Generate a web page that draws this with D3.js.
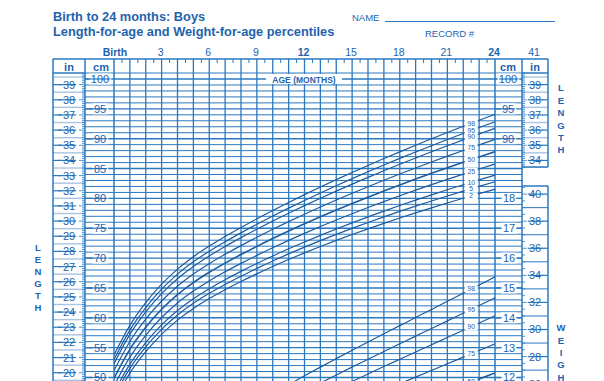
<!DOCTYPE html>
<html>
<head>
<meta charset="utf-8">
<script src="https://cdn.jsdelivr.net/npm/d3@7"></script>
<style>
  html, body { margin: 0; padding: 0; background: #ffffff; }
  svg { display: block; font-family: "Liberation Sans", Arial, sans-serif; }
</style>
</head>
<body>
<div id="chart"></div>
<script>
// months of age (x categories)
const months = [0, 1, 2, 3, 4, 5, 6, 7, 8, 9, 10, 11, 12, 13, 14, 15, 16, 17, 18, 19, 20, 21, 22, 23, 24];
const monthTickValues = [0, 3, 6, 9, 12, 15, 18, 21, 24];
const monthTickLabels = ["Birth", "3", "6", "9", "12", "15", "18", "21", "24"];

// length-for-age percentiles (cm), birth..24 months
const len2  = [45.996, 50.726, 54.316, 57.230, 59.612, 61.566, 63.227, 64.705, 66.069, 67.361, 68.588, 69.754, 70.868, 71.936, 72.961, 73.949, 74.903, 75.825, 76.718, 77.582, 78.420, 79.231, 80.021, 80.789, 81.541];
const len5  = [46.770, 51.522, 55.134, 58.066, 60.463, 62.429, 64.103, 65.593, 66.971, 68.278, 69.523, 70.707, 71.840, 72.928, 73.975, 74.984, 75.960, 76.905, 77.822, 78.709, 79.571, 80.407, 81.221, 82.014, 82.791];
const len10 = [47.458, 52.230, 55.861, 58.809, 61.219, 63.197, 64.881, 66.382, 67.773, 69.094, 70.353, 71.554, 72.704, 73.809, 74.875, 75.903, 76.899, 77.865, 78.802, 79.711, 80.593, 81.451, 82.287, 83.103, 83.901];
const len25 = [48.607, 53.411, 57.076, 60.050, 62.483, 64.478, 66.180, 67.700, 69.112, 70.456, 71.740, 72.968, 74.146, 75.282, 76.379, 77.439, 78.468, 79.468, 80.439, 81.383, 82.302, 83.196, 84.069, 84.921, 85.755];
const len50 = [49.884, 54.724, 58.425, 61.429, 63.886, 65.903, 67.624, 69.165, 70.599, 71.969, 73.281, 74.539, 75.749, 76.919, 78.050, 79.146, 80.211, 81.249, 82.259, 83.242, 84.200, 85.135, 86.048, 86.941, 87.816];
const len75 = [51.161, 56.037, 59.774, 62.808, 65.290, 67.327, 69.067, 70.629, 72.087, 73.482, 74.822, 76.110, 77.352, 78.555, 79.721, 80.853, 81.955, 83.030, 84.078, 85.100, 86.098, 87.073, 88.027, 88.961, 89.877];
const len90 = [52.310, 57.219, 60.989, 64.049, 66.553, 68.609, 70.367, 71.947, 73.426, 74.844, 76.210, 77.524, 78.794, 80.028, 81.225, 82.389, 83.524, 84.633, 85.716, 86.773, 87.806, 88.818, 89.808, 90.780, 91.732];
const len95 = [52.998, 57.927, 61.716, 64.792, 67.309, 69.376, 71.144, 72.736, 74.227, 75.659, 77.040, 78.371, 79.658, 80.909, 82.125, 83.308, 84.463, 85.593, 86.696, 87.774, 88.829, 89.863, 90.875, 91.868, 92.842];
const len98 = [53.773, 58.723, 62.534, 65.628, 68.160, 70.240, 72.020, 73.624, 75.130, 76.576, 77.974, 79.323, 80.630, 81.902, 83.138, 84.343, 85.520, 86.672, 87.799, 88.901, 89.980, 91.038, 92.075, 93.093, 94.091];

// weight-for-age percentiles (kg), 10..24 months (only the visible part)
const wtMonths = [10, 11, 12, 13, 14, 15, 16, 17, 18, 19, 20, 21, 22, 23, 24];
const wt50 = [9.165, 9.412, 9.648, 9.875, 10.095, 10.311, 10.523, 10.732, 10.939, 11.143, 11.346, 11.549, 11.750, 11.951, 12.152];
const wt75 = [9.861, 10.129, 10.384, 10.630, 10.870, 11.104, 11.335, 11.564, 11.790, 12.014, 12.237, 12.460, 12.682, 12.904, 13.126];
const wt90 = [10.529, 10.817, 11.091, 11.356, 11.615, 11.868, 12.118, 12.366, 12.611, 12.855, 13.098, 13.341, 13.584, 13.827, 14.070];
const wt95 = [10.949, 11.248, 11.535, 11.813, 12.084, 12.349, 12.611, 12.872, 13.129, 13.386, 13.642, 13.898, 14.155, 14.412, 14.668];
const wt98 = [11.439, 11.754, 12.056, 12.348, 12.632, 12.913, 13.190, 13.465, 13.737, 14.010, 14.281, 14.553, 14.826, 15.099, 15.372];

// scale tick labels
const cmLabelsLeft = [100, 95, 90, 85, 80, 75, 70, 65, 60, 55, 50];
const cmLabelsRight = [100, 95, 90];
const kgLabelsRight = [18, 17, 16, 15, 14, 13, 12];
const inLabelsLeft = [39, 38, 37, 36, 35, 34, 33, 32, 31, 30, 29, 28, 27, 26, 25, 24, 23, 22, 21, 20];
const inLabelsRight = [39, 38, 37, 36, 35, 34];
const lbLabelsRight = [40, 38, 36, 34, 32, 30, 28, 26];

const W = 604, H = 381;
const blue = "#2a78c0";
const ink = "#1f63ad";
const curveInk = "#1c5b9f";

const svg = d3.select("#chart").append("svg")
  .attr("width", W).attr("height", H)
  .attr("viewBox", `0 0 ${W} ${H}`);

const x = d3.scaleLinear().domain([0, 24]).range([114, 495]);
const yLen = d3.scaleLinear().domain([50, 100]).range([377.5, 79]);
const yWt = d3.scaleLinear().domain([12, 18]).range([yLen(50), yLen(80)]);
const yIn = v => yLen(v * 2.54);
const yLb = v => yWt(v * 0.45359);

const frameTop = 59, headLine = 73;
const xInL = 53, xCmL = 85, xCmR = 522, xInR = 548;

// ---- titles ----
svg.append("text").attr("x", 53).attr("y", 21)
  .style("font-size", "12.8px").style("font-weight", "bold").style("fill", ink)
  .text("Birth to 24 months: Boys");
svg.append("text").attr("x", 53).attr("y", 36)
  .style("font-size", "12.8px").style("font-weight", "bold").style("fill", ink)
  .text("Length-for-age and Weight-for-age percentiles");
svg.append("text").attr("x", 352).attr("y", 21)
  .style("font-size", "9.5px").style("fill", ink).text("NAME");
svg.append("line").attr("x1", 385).attr("x2", 555).attr("y1", 21.5).attr("y2", 21.5)
  .attr("stroke", blue).attr("stroke-width", 1);
svg.append("text").attr("x", 425).attr("y", 37)
  .style("font-size", "9.5px").style("fill", ink).text("RECORD #");

// ---- month labels ----
svg.append("g").selectAll("text")
  .data(monthTickValues)
  .join("text")
  .attr("x", (d, i) => x(d) + (i === 0 ? 1 : -1))
  .attr("y", 56)
  .attr("text-anchor", "middle")
  .style("font-size", "10.5px")
  .style("font-weight", d => (d % 12 === 0 ? "bold" : "normal"))
  .style("fill", ink)
  .text((d, i) => monthTickLabels[i]);
svg.append("text").attr("x", 534).attr("y", 56).attr("text-anchor", "middle")
  .style("font-size", "10.5px").style("fill", ink).text("41");

// ---- inch columns: light half-inch lines ----
const gIn = svg.append("g");
const halfInL = d3.range(19.5, 40, 1);
gIn.selectAll("line.hl").data(halfInL).join("line")
  .attr("x1", xInL).attr("x2", xCmL)
  .attr("y1", d => yIn(d)).attr("y2", d => yIn(d))
  .attr("stroke", "#a8c4e2").attr("stroke-width", 1.4);
const halfInR = d3.range(33.5, 40, 1);
gIn.selectAll("line.hr").data(halfInR).join("line")
  .attr("x1", xCmR).attr("x2", xInR)
  .attr("y1", d => yIn(d)).attr("y2", d => yIn(d))
  .attr("stroke", "#a8c4e2").attr("stroke-width", 1.4);
// odd-pound lines in the lb box
const oddLb = [41, 39, 37, 35, 33, 31, 29, 27, 25];
gIn.selectAll("line.lb").data(oddLb).join("line")
  .attr("x1", xCmR).attr("x2", xInR)
  .attr("y1", d => yLb(d)).attr("y2", d => yLb(d))
  .attr("stroke", blue).attr("stroke-width", 1);

// eighth-inch ticks at the inner edges of the inch columns
const eighthL = d3.range(19.5 * 8, 39.75 * 8 + 1).map(v => v / 8);
gIn.selectAll("line.e").data(eighthL).join("line")
  .attr("x1", d => (Number.isInteger(d) ? xCmL - 6 : xCmL - 3)).attr("x2", xCmL)
  .attr("y1", d => yIn(d)).attr("y2", d => yIn(d))
  .attr("stroke", blue).attr("stroke-width", 0.8);
const eighthR = d3.range(33.5 * 8, 39.75 * 8 + 1).map(v => v / 8);
gIn.selectAll("line.er").data(eighthR).join("line")
  .attr("x1", xCmR).attr("x2", d => (Number.isInteger(d) ? xCmR + 6 : xCmR + 3))
  .attr("y1", d => yIn(d)).attr("y2", d => yIn(d))
  .attr("stroke", blue).attr("stroke-width", 0.8);
const quarterLb = d3.range(24.5 * 2, 41.5 * 2 + 1).map(v => v / 2);
gIn.selectAll("line.ql").data(quarterLb).join("line")
  .attr("x1", xCmR).attr("x2", d => (d % 2 === 0 ? xCmR + 6 : xCmR + 3))
  .attr("y1", d => yLb(d)).attr("y2", d => yLb(d))
  .attr("stroke", blue).attr("stroke-width", 0.8)
  .attr("display", d => (yLb(d) < 187 ? "none" : null));

// ---- main grid ----
const grid = svg.append("g");
const cmLines = d3.range(50, 102, 1);
grid.selectAll("line.h").data(cmLines).join("line")
  .attr("x1", xCmL).attr("x2", xCmR)
  .attr("y1", d => yLen(d)).attr("y2", d => yLen(d))
  .attr("stroke", blue)
  .attr("stroke-width", d => (d % 5 === 0 ? 1.4 : 1));

grid.selectAll("line.v").data(months).join("line")
  .attr("x1", d => x(d)).attr("x2", d => x(d))
  .attr("y1", frameTop).attr("y2", H)
  .attr("stroke", blue)
  .attr("stroke-width", d => (d === 0 || d === 24 ? 1.5 : 1.3));

const halfMonths = months.slice(0, 24).map(d => d + 0.5);
grid.selectAll("line.t").data(halfMonths).join("line")
  .attr("x1", d => x(d)).attr("x2", d => x(d))
  .attr("y1", frameTop).attr("y2", frameTop + 4)
  .attr("stroke", blue).attr("stroke-width", 1);

// ---- frame ----
const frame = svg.append("g").attr("stroke", blue).attr("stroke-width", 1.5);
frame.append("line").attr("x1", xInL).attr("x2", xInR).attr("y1", frameTop).attr("y2", frameTop);
frame.append("line").attr("x1", xInL).attr("x2", xCmL).attr("y1", headLine).attr("y2", headLine);
frame.append("line").attr("x1", xCmR).attr("x2", xInR).attr("y1", headLine).attr("y2", headLine);
frame.append("line").attr("x1", xInL).attr("x2", xInL).attr("y1", frameTop).attr("y2", H);
frame.append("line").attr("x1", xCmL).attr("x2", xCmL).attr("y1", frameTop).attr("y2", H);
frame.append("line").attr("x1", xCmR).attr("x2", xCmR).attr("y1", frameTop).attr("y2", H);
frame.append("line").attr("x1", xInR).attr("x2", xInR).attr("y1", frameTop).attr("y2", 167);
frame.append("line").attr("x1", xInR).attr("x2", xInR).attr("y1", 186).attr("y2", H);
frame.append("line").attr("x1", xCmR).attr("x2", xInR).attr("y1", 167).attr("y2", 167);
frame.append("line").attr("x1", xCmR).attr("x2", xInR).attr("y1", 186).attr("y2", 186);
// white gap between length and weight inch boxes
svg.append("rect").attr("x", xCmR + 1).attr("y", 168).attr("width", xInR - xCmR + 2).attr("height", 17).attr("fill", "#fff");

// ---- curves ----
svg.append("clipPath").attr("id", "plotClip")
  .append("rect").attr("x", 114).attr("y", headLine).attr("width", 381).attr("height", H - headLine);

const lenSeries = [
  { p: "98", v: len98 }, { p: "95", v: len95 }, { p: "90", v: len90 },
  { p: "75", v: len75 }, { p: "50", v: len50 }, { p: "25", v: len25 },
  { p: "10", v: len10 }, { p: "5", v: len5 }, { p: "2", v: len2 }
];
const wtSeries = [
  { p: "98", v: wt98 }, { p: "95", v: wt95 }, { p: "90", v: wt90 },
  { p: "75", v: wt75 }, { p: "50", v: wt50 }
];

const lenLine = d3.line().x((d, i) => x(months[i])).y(d => yLen(d)).curve(d3.curveMonotoneX);
const wtLine = d3.line().x((d, i) => x(wtMonths[i])).y(d => yWt(d)).curve(d3.curveMonotoneX);

const curves = svg.append("g").attr("clip-path", "url(#plotClip)");
curves.selectAll("path.len").data(lenSeries).join("path")
  .attr("fill", "none").attr("stroke", curveInk)
  .attr("stroke-width", d => (d.p === "50" ? 1.6 : 1.2))
  .attr("d", d => lenLine(d.v));
curves.selectAll("path.wt").data(wtSeries).join("path")
  .attr("fill", "none").attr("stroke", curveInk)
  .attr("stroke-width", d => (d.p === "50" ? 1.6 : 1.2))
  .attr("d", d => wtLine(d.v));

// percentile labels at 22.5 months
const labX = x(22.5);
function addLabels(series, yFn, valueAt) {
  const g = svg.append("g").attr("clip-path", "url(#plotClip)");
  series.forEach(s => {
    const yy = yFn(valueAt(s.v));
    g.append("rect").attr("x", labX - 6.5).attr("y", yy - 3.6).attr("width", 13).attr("height", 7.2).attr("fill", "#fff");
  });
  series.forEach(s => {
    const yy = yFn(valueAt(s.v));
    g.append("text").attr("x", labX).attr("y", yy).attr("dy", "0.35em")
      .attr("text-anchor", "middle")
      .style("font-size", "6.8px").style("fill", ink)
      .text(s.p);
  });
}
addLabels(lenSeries, yLen, v => (v[22] + v[23]) / 2);
addLabels(wtSeries, yWt, v => (v[12] + v[13]) / 2);

// ---- AGE (MONTHS) ----
svg.append("rect").attr("x", 266).attr("y", 74).attr("width", 76).attr("height", 10).attr("fill", "#fff");
svg.append("text").attr("x", 304).attr("y", 82.5).attr("text-anchor", "middle")
  .style("font-size", "8.5px").style("font-weight", "bold").style("fill", ink)
  .text("AGE (MONTHS)");

// ---- scale labels ----
function scaleLabels(vals, yFn, cx, size, x0, x1) {
  const g = svg.append("g");
  vals.forEach(v => {
    const yy = yFn(v);
    const txt = String(v);
    const w = txt.length * size * 0.56 + 4;
    g.append("rect").attr("x", cx - w / 2).attr("y", yy - size * 0.5).attr("width", w).attr("height", size).attr("fill", "#fff");
    g.append("line").attr("x1", x0).attr("x2", cx - w / 2 + 1).attr("y1", yy).attr("y2", yy).attr("stroke", blue).attr("stroke-width", 1.2);
    g.append("line").attr("x1", cx + w / 2 - 1).attr("x2", x1).attr("y1", yy).attr("y2", yy).attr("stroke", blue).attr("stroke-width", 1.2);
    g.append("text").attr("x", cx).attr("y", yy).attr("dy", "0.36em").attr("text-anchor", "middle")
      .style("font-size", size + "px").style("fill", ink).text(txt);
  });
}
scaleLabels(cmLabelsLeft, yLen, 100, 11, xCmL, xCmL + 4);
scaleLabels(cmLabelsRight, yLen, 508, 11, 495, 499);
scaleLabels(kgLabelsRight, yWt, 509, 11, 495, xCmR);
scaleLabels(inLabelsLeft, yIn, 69, 11, xInL, xInL + 5);
scaleLabels(inLabelsRight, yIn, 535, 11, xInR - 5, xInR);
scaleLabels(lbLabelsRight.filter(v => yLb(v) > 188), yLb, 535, 11, xInR - 5, xInR);

// header cells
const heads = [
  { t: "in", cx: 69 }, { t: "cm", cx: 101 },
  { t: "cm", cx: 508 }, { t: "in", cx: 535 }
];
heads.forEach(h => {
  svg.append("rect").attr("x", h.cx - 9).attr("y", 61).attr("width", 18).attr("height", 11).attr("fill", "#fff");
  svg.append("text").attr("x", h.cx).attr("y", 70.5).attr("text-anchor", "middle")
    .style("font-size", "11px").style("font-weight", "bold").style("fill", ink).text(h.t);
});

// ---- vertical side words ----
function vword(word, cx, y0, step) {
  word.split("").forEach((c, i) => {
    svg.append("text").attr("x", cx).attr("y", y0 + i * step).attr("dy", "0.35em").attr("text-anchor", "middle")
      .style("font-size", "9.5px").style("font-weight", "bold").style("fill", ink).text(c);
  });
}
vword("LENGTH", 38, 248, 12);
vword("LENGTH", 561, 88, 12.4);
vword("WEIGHT", 561, 328, 12.3);
</script>
</body>
</html>
